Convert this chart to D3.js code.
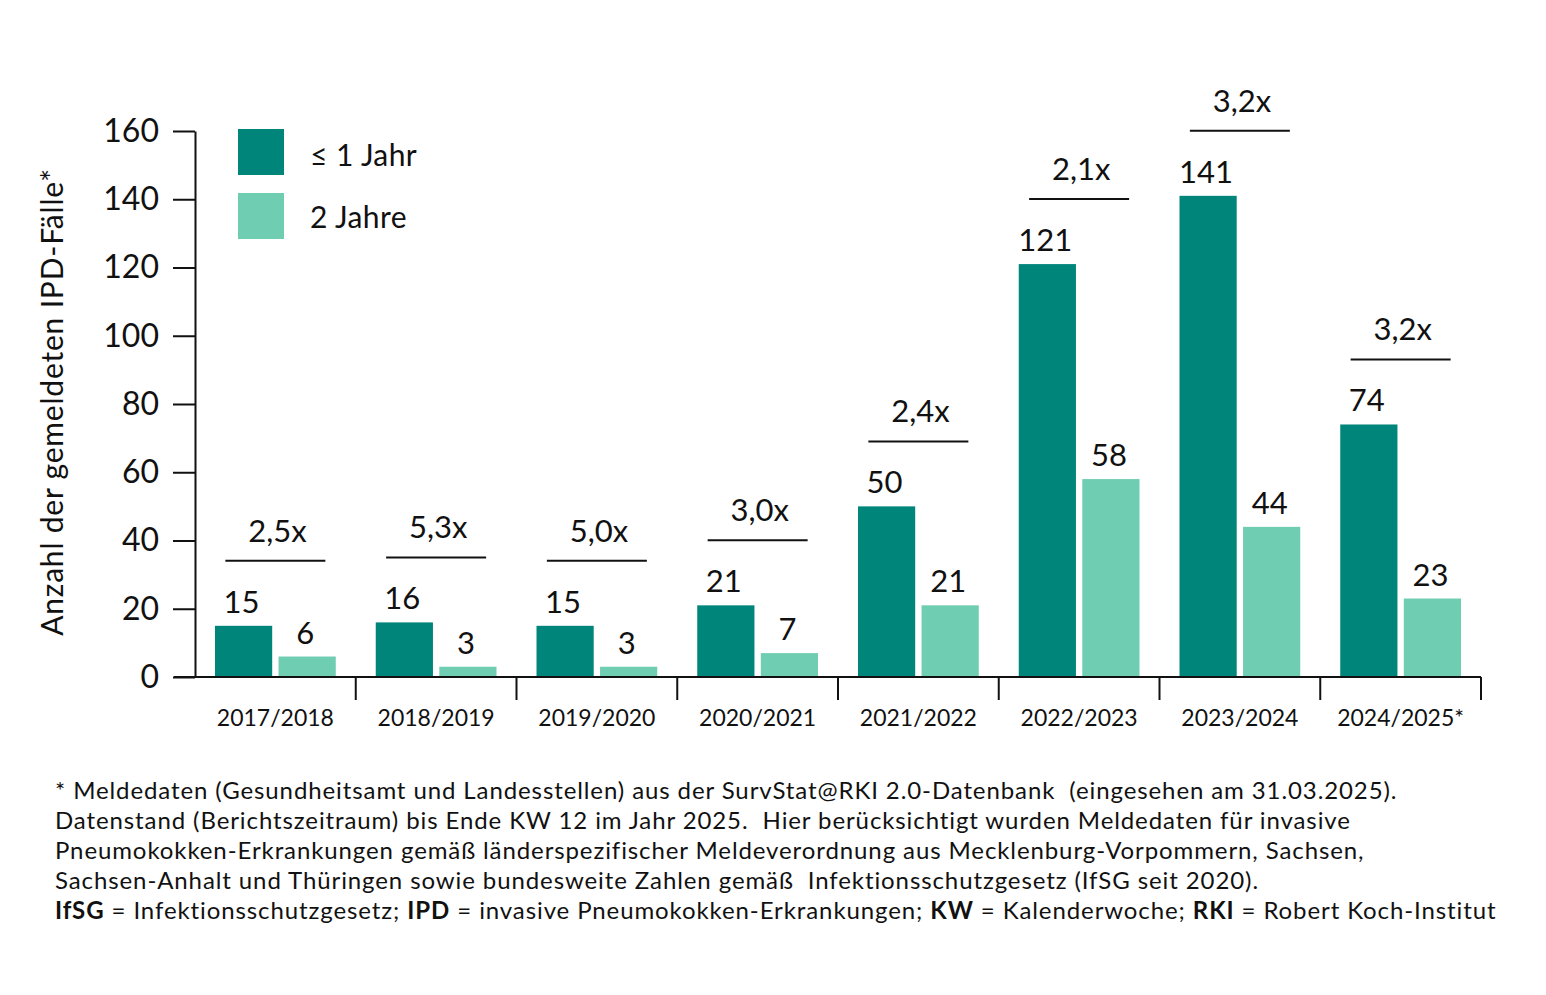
<!DOCTYPE html>
<html lang="de">
<head>
<meta charset="utf-8">
<script src="https://cdn.jsdelivr.net/npm/d3@7"></script>
<style>
  body { margin: 0; background: #fff; }
  svg { display: block; font-family: Lato, "Open Sans", sans-serif; }
  .axis text { font-family: Lato, "Open Sans", sans-serif; fill: #111; }
  .axis path, .axis line { stroke: #111; stroke-width: 2px; }
  .nota { white-space: pre; }
</style>
</head>
<body>
<div id="grafica"></div>
<script>
// datos
const categorias = ["2017/2018", "2018/2019", "2019/2020", "2020/2021",
                    "2021/2022", "2022/2023", "2023/2024", "2024/2025*"];
const serieHasta1 = [15, 16, 15, 21, 50, 121, 141, 74];
const serie2Jahre = [6, 3, 3, 7, 21, 58, 44, 23];
const factores = ["2,5x", "5,3x", "5,0x", "3,0x", "2,4x", "2,1x", "3,2x", "3,2x"];
const nombresSeries = ["\u2264 1 Jahr", "2 Jahre"];
const ticksY = [0, 20, 40, 60, 80, 100, 120, 140, 160];
const tituloY = "Anzahl der gemeldeten IPD-Fälle*";
const notas = [
  [["* Meldedaten (Gesundheitsamt und Landesstellen) aus der SurvStat@RKI 2.0-Datenbank  (eingesehen am 31.03.2025).", false]],
  [["Datenstand (Berichtszeitraum) bis Ende KW 12 im Jahr 2025.  Hier berücksichtigt wurden Meldedaten für invasive", false]],
  [["Pneumokokken-Erkrankungen gemäß länderspezifischer Meldeverordnung aus Mecklenburg-Vorpommern, Sachsen,", false]],
  [["Sachsen-Anhalt und Thüringen sowie bundesweite Zahlen gemäß  Infektionsschutzgesetz (IfSG seit 2020).", false]],
  [["IfSG", true], [" = Infektionsschutzgesetz; ", false], ["IPD", true], [" = invasive Pneumokokken-Erkrankungen; ", false],
   ["KW", true], [" = Kalenderwoche; ", false], ["RKI", true], [" = Robert Koch-Institut", false]]
];

// parametros
const width = 1546, height = 995;
const colores = ["#00857b", "#6fcdb1"];
const plot = { left: 195, right: 1481, top: 131, bottom: 677 };

const datos = categorias.map((c, i) => ({
  cat: c, valores: [serieHasta1[i], serie2Jahre[i]], factor: factores[i]
}));

const svg = d3.select("#grafica").append("svg")
  .attr("width", width)
  .attr("height", height);

// escalas
const x = d3.scaleBand().domain(categorias).range([plot.left, plot.right]).padding(0);
const x1 = d3.scaleBand().domain([0, 1]).range([20, x.bandwidth() - 20]).paddingInner(0.1);
const y = d3.scaleLinear().domain([0, 160]).range([plot.bottom, plot.top]);

// barras
const grupos = svg.append("g").selectAll("g")
  .data(datos).enter()
  .append("g")
  .attr("transform", d => `translate(${x(d.cat)},0)`);

grupos.selectAll("rect")
  .data(d => d.valores).enter()
  .append("rect")
  .attr("x", (v, i) => x1(i))
  .attr("y", v => y(v))
  .attr("width", x1.bandwidth())
  .attr("height", v => y(0) - y(v))
  .attr("fill", (v, i) => colores[i]);

grupos.selectAll(".valor")
  .data(d => d.valores).enter()
  .append("text")
  .attr("class", "valor")
  .attr("x", (v, i) => x1(i) + x1.bandwidth() / 2 - 2)
  .attr("y", v => y(v) - 13)
  .attr("text-anchor", "middle")
  .attr("font-size", 31)
  .attr("fill", "#111")
  .text(v => v);

// factor y linea encima de cada grupo
grupos.append("line")
  .attr("x1", x.bandwidth() / 2 - 50)
  .attr("x2", x.bandwidth() / 2 + 50)
  .attr("y1", d => y(d3.max(d.valores)) - 65)
  .attr("y2", d => y(d3.max(d.valores)) - 65)
  .attr("stroke", "#111")
  .attr("stroke-width", 2);

grupos.append("text")
  .attr("x", x.bandwidth() / 2 + 2)
  .attr("y", d => y(d3.max(d.valores)) - 65 - 19)
  .attr("text-anchor", "middle")
  .attr("font-size", 31)
  .attr("fill", "#111")
  .text(d => d.factor);

// eje Y
svg.append("g")
  .attr("class", "y axis")
  .attr("transform", `translate(${plot.left},0)`)
  .call(d3.axisLeft(y).tickValues(ticksY).tickSize(22).tickSizeOuter(0).tickPadding(14))
  .selectAll("text")
  .attr("font-size", 32);

// eje X (linea, separadores y etiquetas)
const ejeX = svg.append("g").attr("class", "x axis");
ejeX.append("line")
  .attr("x1", plot.left - 21).attr("x2", plot.right)
  .attr("y1", plot.bottom).attr("y2", plot.bottom)
  .attr("stroke", "#111").attr("stroke-width", 2);

ejeX.selectAll(".sep")
  .data(categorias.slice(1).map(c => x(c)).concat([plot.right])).enter()
  .append("line")
  .attr("class", "sep")
  .attr("x1", d => d).attr("x2", d => d)
  .attr("y1", plot.bottom).attr("y2", plot.bottom + 23)
  .attr("stroke", "#111").attr("stroke-width", 2);

ejeX.selectAll(".cat")
  .data(categorias).enter()
  .append("text")
  .attr("class", "cat")
  .attr("x", d => x(d) + x.bandwidth() / 2)
  .attr("y", plot.bottom + 49)
  .attr("text-anchor", "middle")
  .attr("font-size", 23)
  .text(d => d);

// titulo del eje Y
svg.append("text")
  .attr("transform", `translate(63, ${(plot.top + plot.bottom) / 2 - 2}) rotate(-90)`)
  .attr("text-anchor", "middle")
  .attr("font-size", 30)
  .attr("letter-spacing", 0.8)
  .attr("fill", "#111")
  .text(tituloY);

// leyenda
const leyenda = svg.append("g").attr("transform", "translate(238,129)");
nombresSeries.forEach((n, i) => {
  leyenda.append("rect")
    .attr("x", 0).attr("y", i * 64)
    .attr("width", 46).attr("height", 46)
    .attr("fill", colores[i]);
  leyenda.append("text")
    .attr("x", 72).attr("y", i * 62 + 37)
    .attr("font-size", 30)
    .attr("letter-spacing", 0.4)
    .attr("fill", "#111")
    .text(n);
});

// notas al pie
const pie = svg.append("g").attr("transform", "translate(55,799)");
notas.forEach((linea, i) => {
  const t = pie.append("text")
    .attr("class", "nota")
    .attr("x", 0).attr("y", i * 30)
    .attr("font-size", 24)
    .attr("letter-spacing", 0.9)
    .attr("fill", "#111");
  linea.forEach(([txt, negrita]) => {
    t.append("tspan")
      .attr("font-weight", negrita ? 700 : 400)
      .text(txt);
  });
});
</script>
</body>
</html>
